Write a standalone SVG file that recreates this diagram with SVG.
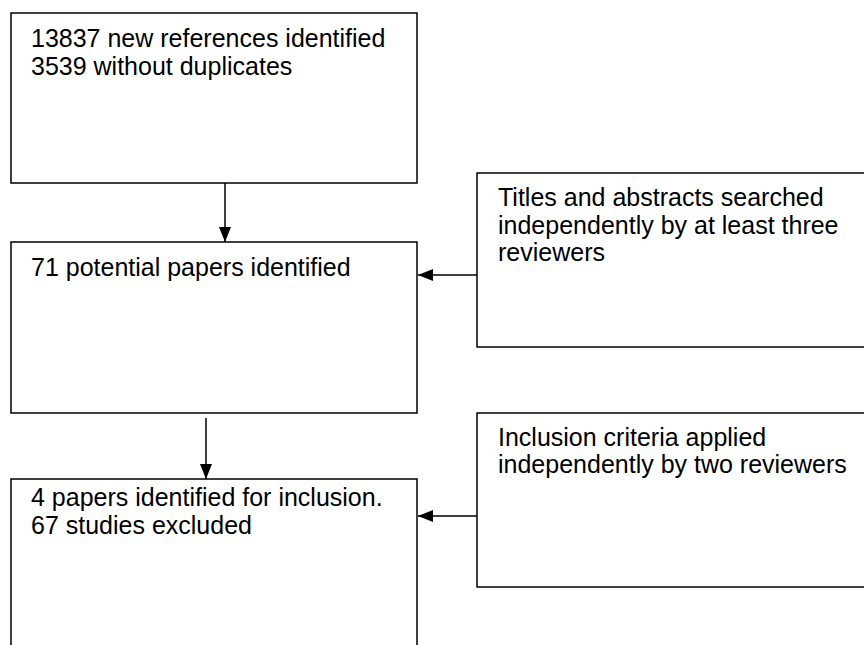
<svg xmlns="http://www.w3.org/2000/svg" width="864" height="645" viewBox="0 0 864 645">
<style>
.box{fill:#fff;stroke:#000;stroke-width:1.5}
.t{font-family:"Liberation Sans",Arial,sans-serif;font-size:25px;fill:#000}
.c{stroke:#000;stroke-width:1.5;fill:none}
</style>
<defs>
<marker id="ah" viewBox="0 0 15 12" refX="15" refY="6" markerWidth="15" markerHeight="12" markerUnits="userSpaceOnUse" orient="auto">
<path d="M0,0L15,6L0,12z" fill="#000"/>
</marker>
</defs>
<rect width="864" height="645" fill="#fff"/>
<g id="n1"><rect class="box" x="11" y="13" width="406" height="170"/>
<text class="t" x="31" y="47">13837 new references identified</text>
<text class="t" x="31" y="74.5">3539 without duplicates</text></g>
<g id="n2"><rect class="box" x="11" y="242" width="406" height="171"/>
<text class="t" x="31" y="276">71 potential papers identified</text></g>
<g id="n3"><rect class="box" x="11" y="479" width="406" height="180"/>
<text class="t" x="31" y="506">4 papers identified for inclusion.</text>
<text class="t" x="31" y="533.5">67 studies excluded</text></g>
<g id="n4"><rect class="box" x="477" y="173" width="400" height="174"/>
<text class="t" x="498" y="206">Titles and abstracts searched</text>
<text class="t" x="498" y="233.5">independently by at least three</text>
<text class="t" x="498" y="261">reviewers</text></g>
<g id="n5"><rect class="box" x="477" y="413" width="400" height="174"/>
<text class="t" x="498" y="446">Inclusion criteria applied</text>
<text class="t" x="498" y="472.5">independently by two reviewers</text></g>
<g id="connectors">
<line class="c" x1="225" y1="183" x2="225" y2="242" marker-end="url(#ah)"/>
<line class="c" x1="206" y1="418" x2="206" y2="479" marker-end="url(#ah)"/>
<line class="c" x1="477" y1="275" x2="418" y2="275" marker-end="url(#ah)"/>
<line class="c" x1="477" y1="516" x2="418" y2="516" marker-end="url(#ah)"/>
</g>
</svg>
